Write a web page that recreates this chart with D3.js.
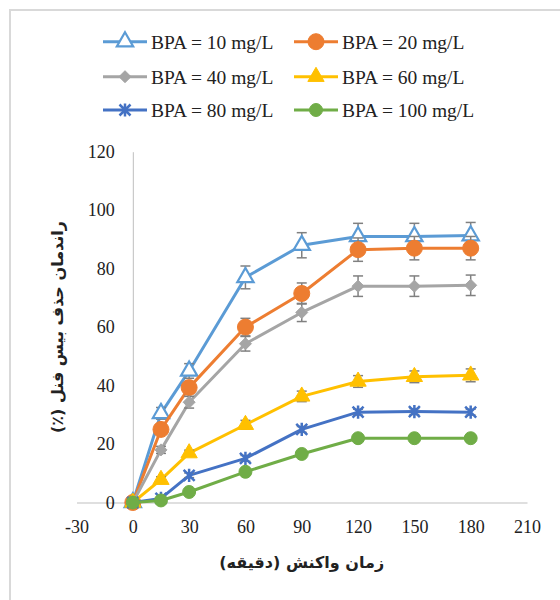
<!DOCTYPE html>
<html><head><meta charset="utf-8">
<script src="https://cdn.jsdelivr.net/npm/d3@7"></script>
<style>body{margin:0;background:#fff}</style>
</head><body>
<svg id="c" width="560" height="600"></svg>
<script>
const times = [0, 15, 30, 60, 90, 120, 150, 180];
const seriesNames = ["BPA = 10 mg/L","BPA = 20 mg/L","BPA = 40 mg/L","BPA = 60 mg/L","BPA = 80 mg/L","BPA = 100 mg/L"];
const bpa10  = [0, 30.5, 45, 77, 88, 91, 91, 91.3];
const bpa20  = [0, 25, 39.3, 60, 71.5, 86.5, 87, 87];
const bpa40  = [0, 18, 34.3, 54.3, 65, 74, 74, 74.3];
const bpa60  = [0, 7.8, 16.9, 26.6, 36.3, 41.4, 43, 43.5];
const bpa80  = [0, 1.4, 9.3, 15.1, 25, 30.9, 31.1, 30.9];
const bpa100 = [0, 0.7, 3.6, 10.5, 16.6, 22, 22, 22];
const err10  = [0, 2, 2.5, 3.9, 4.3, 4.5, 4.5, 4.5];
const err20  = [0, 1.5, 2, 3, 3.6, 4, 4, 4];
const err40  = [0, 1.2, 2, 2.5, 3.1, 3.5, 3.5, 3.5];
const err60  = [0, 1, 1, 1.5, 1.8, 2, 2, 2.2];
const err80  = [0, 0.5, 0.8, 1, 1, 1, 1, 1];
const err100 = [0, 0.5, 0.5, 0.8, 0.8, 1, 1, 1];
const xTicks = [-30, 0, 30, 60, 90, 120, 150, 180, 210];
const yTicks = [0, 20, 40, 60, 80, 100, 120];
const xTitle = "زمان واکنش (دقیقه)";
const yTitle = "راندمان حذف بیس فنل (٪)";

const values = [bpa10, bpa20, bpa40, bpa60, bpa80, bpa100];
const errors = [err10, err20, err40, err60, err80, err100];
const colors = ["#5B9BD5","#ED7D31","#A5A5A5","#FFC000","#4472C4","#70AD47"];
const markers = ["triHollow","circle","diamond","triangle","star","circleS"];

const svg = d3.select("#c");
svg.append("rect").attr("x",10).attr("y",10).attr("width",570).attr("height",620)
  .attr("fill","#fff").attr("stroke","#d9d9d9").attr("stroke-width",2);

const x = d3.scaleLinear().domain([-30,210]).range([76.5,527]);
const y = d3.scaleLinear().domain([0,120]).range([502.5,151.7]);

// axes
const fmt = d => String(d);
const xa = svg.append("g").attr("transform",`translate(0,${y(0)})`)
  .call(d3.axisBottom(x).tickValues(xTicks).tickSize(0).tickPadding(18).tickFormat(fmt));
const ya = svg.append("g").attr("transform",`translate(${x(0)},0)`)
  .call(d3.axisLeft(y).tickValues(yTicks).tickSize(0).tickPadding(18).tickFormat(fmt));
[xa,ya].forEach(a=>{
  a.select(".domain").attr("stroke","#bfbfbf").attr("stroke-width",1);
  a.selectAll("text").attr("font-family","'Liberation Serif','Times New Roman',serif")
    .attr("font-size",18).attr("fill","#222");
});

function markerPath(type, size){
  const s = size;
  if(type==="triHollow"||type==="triangle") return d3.symbol(d3.symbolTriangle, s*s*0.45)();
  if(type==="circle") return d3.symbol(d3.symbolCircle, Math.PI*64)();
  if(type==="circleS") return d3.symbol(d3.symbolCircle, Math.PI*42)();
  if(type==="diamond"){ const r=6; return `M0,${-r}L${r},0L0,${r}L${-r},0Z`; }
  if(type==="star"){ const r=5.5; return `M${-r},${-r}L${r},${r}M${-r},${r}L${r},${-r}M0,${-r*1.2}L0,${r*1.2}`; }
}
function drawMarker(g, type, color, cx, cy){
  const p = g.append("path").attr("transform",`translate(${cx},${cy})`).attr("d", markerPath(type, 16));
  if(type==="triHollow") p.attr("fill","#fff").attr("stroke",color).attr("stroke-width",2.2);
  else if(type==="star") p.attr("fill","none").attr("stroke",color).attr("stroke-width",2.5);
  else p.attr("fill",color).attr("stroke",color).attr("stroke-width",1);
}

const line = d3.line().x((d,i)=>x(times[i])).y(d=>y(d));
values.forEach((vals, si)=>{
  const g = svg.append("g");
  g.append("path").datum(vals).attr("d",line).attr("fill","none")
    .attr("stroke",colors[si]).attr("stroke-width",3).attr("stroke-linejoin","round");
  vals.forEach((v,i)=>{
    const e = errors[si][i];
    if(e>0){
      const cx = x(times[i]);
      const eg = g.append("g").attr("stroke","#808080").attr("stroke-width",1.5);
      eg.append("line").attr("x1",cx).attr("x2",cx).attr("y1",y(v+e)).attr("y2",y(v-e));
      eg.append("line").attr("x1",cx-5).attr("x2",cx+5).attr("y1",y(v+e)).attr("y2",y(v+e));
      eg.append("line").attr("x1",cx-5).attr("x2",cx+5).attr("y1",y(v-e)).attr("y2",y(v-e));
    }
  });
  vals.forEach((v,i)=> drawMarker(g, markers[si], colors[si], x(times[i]), y(v)));
});

// legend
const legX = [103, 294], legY = [41.7, 76.7, 110];
seriesNames.forEach((name, si)=>{
  const cx = legX[si%2], cy = legY[Math.floor(si/2)];
  const g = svg.append("g");
  g.append("line").attr("x1",cx).attr("x2",cx+44).attr("y1",cy).attr("y2",cy)
    .attr("stroke",colors[si]).attr("stroke-width",3);
  drawMarker(g, markers[si], colors[si], cx+22, cy);
  g.append("text").attr("x",cx+48).attr("y",cy).attr("dy","0.35em")
    .attr("font-family","'Liberation Serif','Times New Roman',serif").attr("font-size",19.5)
    .attr("fill","#222").text(name);
});

// titles
svg.append("text").attr("x",301.7).attr("y",568).attr("text-anchor","middle")
  .attr("font-family","'DejaVu Sans','Noto Sans',sans-serif").attr("font-weight","bold")
  .attr("font-size",16).attr("fill","#222").attr("direction","rtl").text(xTitle);
svg.append("text").attr("transform","translate(63,327) rotate(-90)").attr("text-anchor","middle")
  .attr("font-family","'DejaVu Sans','Noto Sans',sans-serif").attr("font-weight","bold")
  .attr("font-size",16).attr("fill","#222").attr("direction","rtl").text(yTitle);
</script>
</body></html>
